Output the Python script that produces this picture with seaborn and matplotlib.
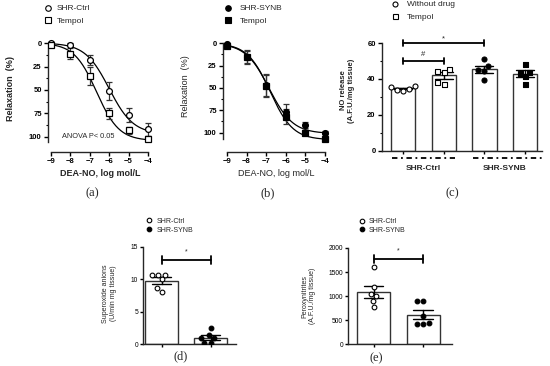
import numpy as np
import pandas as pd
import matplotlib
matplotlib.use("Agg")
import matplotlib.pyplot as plt
import seaborn as sns
from matplotlib.lines import Line2D
from matplotlib.ticker import MultipleLocator, FixedLocator

# ---------------- data ----------------
log_conc = [-9, -8, -7, -6, -5, -4]
# panel (a)
a_ctrl_mean = [0, 2, 18, 51, 77, 92]
a_ctrl_sem = [1, 1.5, 5, 10, 7.5, 7]
a_temp_mean = [2, 11.5, 35, 75, 93, 102]
a_temp_sem = [1, 6, 10, 5.5, 4, 2.5]
# panel (b)
b_synb_mean = [1, 15, 47, 76.5, 91.5, 100]
b_synb_sem = [1, 7.5, 12, 8, 3, 1.5]
b_temp_mean = [3, 15.7, 48, 82, 100, 107.5]
b_temp_sem = [1, 7.5, 12, 8, 3, 1.5]
# fitted sigmoid parameters: bottom, top, logEC50, hill slope
a_ctrl_fit = (0, 97, -6.0, 0.7)
a_temp_fit = (0, 104, -6.65, 0.75)
b_synb_fit = (0, 101, -6.85, 0.72)
b_temp_fit = (0, 108, -6.8, 0.75)

# panel (c)
c_cats = ["Ctrl", "Ctrl+Tempol", "SYNB", "SYNB+Tempol"]
c_ctrl = [35.5, 36.0, 33.2, 34.0, 34.5]
c_ctrl_temp = [44.4, 43.9, 45.7, 37.4, 38.1]
c_synb = [47.0, 51.3, 44.8, 44.4, 39.6]
c_synb_temp = [48.5, 43.5, 44.0, 41.5, 37.4]
c_groups = ["SHR-Ctrl", "SHR-SYNB"]

# panel (d)
d_cats = ["SHR-Ctrl", "SHR-SYNB"]
d_ctrl = [10.7, 10.7, 10.7, 10.0, 8.6, 8.0]
d_synb = [2.5, 1.5, 0.9, 0.9, 0.15, 0.15]

# panel (e)
e_ctrl = [1610, 1180, 1050, 1000, 900, 780]
e_synb = [900, 900, 580, 450, 430, 430]

# ---------------- style ----------------
sns.set_theme(style="ticks")
plt.rcParams["font.family"] = ["Liberation Sans", "DejaVu Sans"]
plt.rcParams["axes.linewidth"] = 1.0
plt.rcParams["xtick.major.width"] = 1.0
plt.rcParams["ytick.major.width"] = 1.0
plt.rcParams["xtick.color"] = "black"
plt.rcParams["ytick.color"] = "black"

W, H = 550, 366
fig = plt.figure(figsize=(W / 100, H / 100), dpi=100)


def add_ax(l, t, r, b):
    return fig.add_axes([l / W, 1 - b / H, (r - l) / W, (b - t) / H])


def sigmoid(x, p):
    bottom, top, ec, hill = p
    return bottom + (top - bottom) / (1 + 10 ** ((ec - x) * hill))


def legend(ax, handles, labels, mx, tx, y0, gap, fs):
    fpx = fs * 100 / 72
    hl = 1.0
    htp = (tx - mx) / fpx - hl / 2
    h = fpx * 1.17
    ls = (gap - h) / fpx
    ax.legend(handles, labels, loc="upper left",
              bbox_to_anchor=((mx - hl * fpx / 2) / W, 1 - (y0 - h / 2) / H),
              bbox_transform=fig.transFigure, frameon=False, borderpad=0,
              borderaxespad=0, handlelength=hl, handletextpad=htp,
              labelspacing=ls, fontsize=fs, handleheight=0.7)


def mk(marker, filled, ms):
    return Line2D([], [], ls="", marker=marker, ms=ms, mec="black",
                  mfc="black" if filled else "white", mew=0.8)


def bracket(ax, x1, x2, y, dy, txt, ty, fs, lw=1.3):
    ax.plot([x1, x2], [y, y], color="black", lw=lw, clip_on=False)
    for xx in (x1, x2):
        ax.plot([xx, xx], [y - dy, y + dy], color="black", lw=lw, clip_on=False)
    ax.text((x1 + x2) / 2, ty, txt, ha="center", va="center", fontsize=fs)


def curve_panel(ax, m1, s1, f1, m2, s2, f2, filled, bold, ylim, spine_end, xlim):
    xs = np.linspace(-9, -4, 200)
    df = pd.DataFrame({"x": np.concatenate([xs, xs]),
                       "y": np.concatenate([sigmoid(xs, f1), sigmoid(xs, f2)]),
                       "g": ["A"] * len(xs) + ["B"] * len(xs)})
    sns.lineplot(data=df, x="x", y="y", hue="g", palette=["black", "black"],
                 linewidth=0.9, legend=False, ax=ax)
    for m, s, mk_ in ((m1, s1, "o"), (m2, s2, "s")):
        ax.errorbar(log_conc, m, yerr=s, fmt="none", ecolor="#333333",
                    elinewidth=0.9, capsize=2.2, capthick=0.9, zorder=3)
        ax.plot(log_conc, m, ls="", marker=mk_, ms=4.2, mec="black",
                mfc="black" if filled else "white", mew=0.9, zorder=4)
    ax.set_xlim(*xlim)
    ax.set_ylim(*ylim)
    ax.spines["top"].set_visible(False)
    ax.spines["right"].set_visible(False)
    ax.spines["left"].set_bounds(0, spine_end)
    ax.spines["bottom"].set_bounds(-9, -4)
    ax.set_xticks(log_conc)
    ax.set_yticks([0, 25, 50, 75, 100])
    ax.yaxis.set_minor_locator(FixedLocator([12.5, 37.5, 62.5, 87.5]))
    ax.tick_params(axis="both", which="major", length=3, labelsize=5.5, pad=1.5)
    ax.tick_params(axis="y", which="minor", length=1.8, width=0.8)
    for t in ax.get_xticklabels() + ax.get_yticklabels():
        t.set_fontweight("bold")
    w = "bold" if bold else "normal"
    ax.set_xlabel("DEA-NO, log mol/L", fontsize=6.5, fontweight=w, labelpad=3)
    ax.set_ylabel("Relaxation  (%)", fontsize=6.5, fontweight=w)


# ---------------- panel (a) ----------------
axa = add_ax(48, 37, 152, 152)
curve_panel(axa, a_ctrl_mean, a_ctrl_sem, a_ctrl_fit, a_temp_mean, a_temp_sem,
            a_temp_fit, False, True, (116, -6.4), 105, (-9.155, -3.79))
axa.yaxis.set_label_coords(-0.32, 0.55)
axa.text(-8.45, 100, "ANOVA P< 0.05", fontsize=5.3, va="center")
legend(axa, [mk("o", False, 4), mk("s", False, 4)], ["SHR-Ctrl", "Tempol"],
       48, 57, 9.5, 14.5, 6)

# ---------------- panel (b) ----------------
axb = add_ax(223, 37, 329, 152)
curve_panel(axb, b_synb_mean, b_synb_sem, b_synb_fit, b_temp_mean, b_temp_sem,
            b_temp_fit, True, False, (121.6, -6.9), 107.5, (-9.2, -3.8))
axb.yaxis.set_label_coords(-0.31, 0.57)
legend(axb, [mk("o", True, 4), mk("s", True, 4)], ["SHR-SYNB", "Tempol"],
       228, 240, 9.5, 14.5, 6)

# ---------------- panel (c) ----------------
axc = add_ax(382, 37, 542, 150.5)
dfc = pd.DataFrame({"cat": [c_cats[0]] * len(c_ctrl) + [c_cats[1]] * len(c_ctrl_temp)
                    + [c_cats[2]] * len(c_synb) + [c_cats[3]] * len(c_synb_temp),
                    "val": c_ctrl + c_ctrl_temp + c_synb + c_synb_temp})
sns.barplot(data=dfc, x="cat", y="val", order=c_cats, errorbar="se", capsize=0.45,
            color="white", edgecolor="#333333", linewidth=1.0, width=0.6,
            err_kws={"linewidth": 1.0, "color": "black"}, ax=axc)
c_style = [("o", "white"), ("s", "white"), ("o", "black"), ("s", "black")]
for cat, (m, fc) in zip(c_cats, c_style):
    sns.swarmplot(data=dfc[dfc["cat"] == cat], x="cat", y="val", order=c_cats,
                  marker=m, color=fc, edgecolor="black", linewidth=0.8,
                  size=3.6, ax=axc, zorder=4)
axc.set_xlim(-0.52, 3.42)
axc.set_ylim(0, 63.4)
sns.despine(ax=axc)
axc.spines["left"].set_bounds(0, 60)
axc.set_yticks([0, 20, 40, 60])
axc.yaxis.set_minor_locator(FixedLocator([10, 30, 50]))
axc.tick_params(axis="y", which="major", length=3, labelsize=5.5, pad=1.5)
axc.tick_params(axis="y", which="minor", length=1.8, width=0.8)
axc.tick_params(axis="x", which="major", length=2.5, labelbottom=False)
for t in axc.get_yticklabels():
    t.set_fontweight("bold")
axc.set_xlabel("")
axc.set_ylabel("NO release\n(A.F.U./mg tissue)", fontsize=5.5, fontweight="bold",
               linespacing=1.1)
axc.yaxis.set_label_coords(-0.17, 0.53)
for gi, gname in enumerate(c_groups):
    x1, x2 = 2 * gi - 0.27, 2 * gi + 1 + (0.28 if gi == 0 else 0.42)
    axc.plot([x1, x2], [-4, -4], color="black", lw=1.3, ls=(0, (3, 2, 1, 2)),
             clip_on=False)
    axc.text(2 * gi + 0.5, -10, gname, ha="center", va="center", fontsize=6,
             fontweight="bold")
bracket(axc, 0, 2, 60, 1.7, "*", 62.3, 5.5)
bracket(axc, 0, 1, 50, 1.7, "#", 53.5, 5.5)
legend(axc, [mk("o", False, 3.6), mk("s", False, 3.6)], ["Without drug", "Tempol"],
       395, 407, 5.5, 14, 6)

# ---------------- panel (d) ----------------
axd = add_ax(143, 246.7, 236, 344.3)
dfd = pd.DataFrame({"cat": [d_cats[0]] * len(d_ctrl) + [d_cats[1]] * len(d_synb),
                    "val": d_ctrl + d_synb})
sns.barplot(data=dfd, x="cat", y="val", order=d_cats, errorbar="se", capsize=0.4,
            color="white", edgecolor="#333333", linewidth=1.0, width=0.67,
            err_kws={"linewidth": 1.0, "color": "black"}, ax=axd)
for cat, fc in zip(d_cats, ["white", "black"]):
    sns.swarmplot(data=dfd[dfd["cat"] == cat], x="cat", y="val", order=d_cats,
                  marker="o", color=fc, edgecolor="black", linewidth=0.8,
                  size=3.4, ax=axd, zorder=4)
axd.set_xlim(-0.378, 1.52)
axd.set_ylim(0, 15)
sns.despine(ax=axd)
axd.set_yticks([0, 5, 10, 15])
axd.tick_params(axis="y", length=2.5, labelsize=4.8, pad=1)
axd.tick_params(axis="x", length=2.5, labelbottom=False)
axd.set_xlabel("")
axd.set_ylabel("Superoxide anions\n(U/min mg tissue)", fontsize=5, linespacing=1.1)
axd.yaxis.set_label_coords(-0.28, 0.52)
bracket(axd, 0, 1, 12.95, 0.6, "*", 14.2, 5)
legend(axd, [mk("o", False, 3.3), mk("o", True, 3.3)], ["SHR-Ctrl", "SHR-SYNB"],
       149, 157, 221.7, 10, 5)

# ---------------- panel (e) ----------------
axe = add_ax(348, 248, 452, 344.3)
dfe = pd.DataFrame({"cat": [d_cats[0]] * len(e_ctrl) + [d_cats[1]] * len(e_synb),
                    "val": e_ctrl + e_synb})
sns.barplot(data=dfe, x="cat", y="val", order=d_cats, errorbar="se", capsize=0.4,
            color="white", edgecolor="#333333", linewidth=1.0, width=0.66,
            err_kws={"linewidth": 1.0, "color": "black"}, ax=axe)
for cat, fc in zip(d_cats, ["white", "black"]):
    sns.swarmplot(data=dfe[dfe["cat"] == cat], x="cat", y="val", order=d_cats,
                  marker="o", color=fc, edgecolor="black", linewidth=0.8,
                  size=3.4, ax=axe, zorder=4)
axe.set_xlim(-0.515, 1.58)
axe.set_ylim(0, 2000)
sns.despine(ax=axe)
axe.set_yticks([0, 500, 1000, 1500, 2000])
axe.tick_params(axis="y", length=2.5, labelsize=4.8, pad=1)
axe.tick_params(axis="x", length=2.5, labelbottom=False)
axe.set_xlabel("")
axe.set_ylabel("Peroxynitrites\n(A.F.U./mg tissue)", fontsize=5, linespacing=1.1)
axe.yaxis.set_label_coords(-0.31, 0.50)
bracket(axe, 0, 1, 1770, 80, "*", 1940, 5)
legend(axe, [mk("o", False, 3.3), mk("o", True, 3.3)], ["SHR-Ctrl", "SHR-SYNB"],
       362, 369, 222, 10, 5)

# ---------------- panel labels ----------------
serif = ["Liberation Serif", "DejaVu Serif"]
for lab, x, y in (("(a)", 92, 193), ("(b)", 268, 193), ("(c)", 452, 193),
                  ("(d)", 181, 356), ("(e)", 376, 358)):
    fig.text(x / W, 1 - y / H, lab, ha="center", va="center", fontsize=9,
             family=serif)

fig.savefig("out.png", dpi=100)
